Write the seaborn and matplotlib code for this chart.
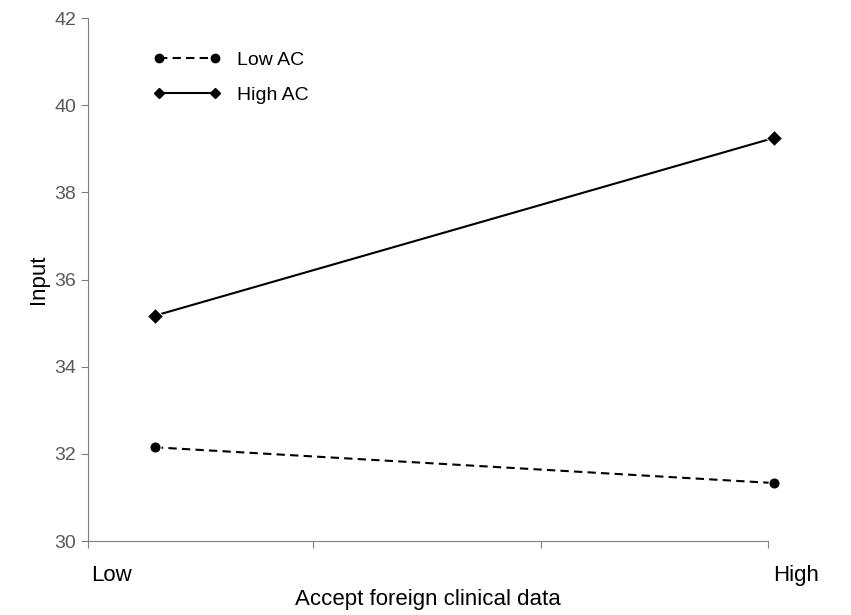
import matplotlib
matplotlib.use("Agg")
import matplotlib.pyplot as plt
import seaborn as sns
import pandas as pd
from matplotlib.lines import Line2D

categories = ["Low", "High"]
low_ac = [32.15, 31.33]
high_ac = [35.17, 39.25]
yticks = [30, 32, 34, 36, 38, 40, 42]

df = pd.DataFrame({
    "x": [0, 1, 0, 1],
    "y": low_ac + high_ac,
    "group": ["Low AC"] * 2 + ["High AC"] * 2,
})

plt.rcParams["font.family"] = "Liberation Sans"
fig = plt.figure(figsize=(8.51, 6.15), dpi=100)
ax = fig.add_axes([0.1034, 0.1203, 0.7990, 0.8504])

sns.lineplot(data=df, x="x", y="y", hue="group", style="group",
             palette={"Low AC": "black", "High AC": "black"},
             dashes={"Low AC": (4, 2.5), "High AC": ""},
             markers={"Low AC": "o", "High AC": "D"},
             markersize=8, linewidth=1.5, ax=ax, clip_on=False, legend=False)

h1 = Line2D([], [], color="black", ls=(0, (4, 2.5)), marker="o", markersize=6, lw=1.5)
h2 = Line2D([], [], color="black", ls="-", marker="D", markersize=5, lw=1.5)
ax.legend([h1, h2], ["Low AC", "High AC"], loc="upper left", bbox_to_anchor=(0.07, 0.97),
          frameon=False, numpoints=2, handlelength=3.5, fontsize=14, labelspacing=0.9)

ax.set_xlim(-0.108, 0.99)
ax.set_ylim(30, 42)
ax.set_yticks(yticks)
ax.set_xticks([-0.108, 0.256, 0.623, 0.99])
ax.set_xticklabels([])
ax.tick_params(axis="x", direction="out", length=5, color="#7f7f7f")
ax.tick_params(axis="y", direction="out", length=5, color="#7f7f7f", labelsize=14, labelcolor="#595959")
for s in ["top", "right"]:
    ax.spines[s].set_visible(False)
for s in ["left", "bottom"]:
    ax.spines[s].set_color("#7f7f7f")
ax.text(-0.07, -0.065, categories[0], transform=ax.get_xaxis_transform(), ha="center", va="center", fontsize=16)
ax.text(1.035, -0.065, categories[1], transform=ax.get_xaxis_transform(), ha="center", va="center", fontsize=16)
ax.set_xlabel("Accept foreign clinical data", fontsize=16, labelpad=26)
ax.set_ylabel("Input", fontsize=16)
fig.savefig("out.png", dpi=100)
